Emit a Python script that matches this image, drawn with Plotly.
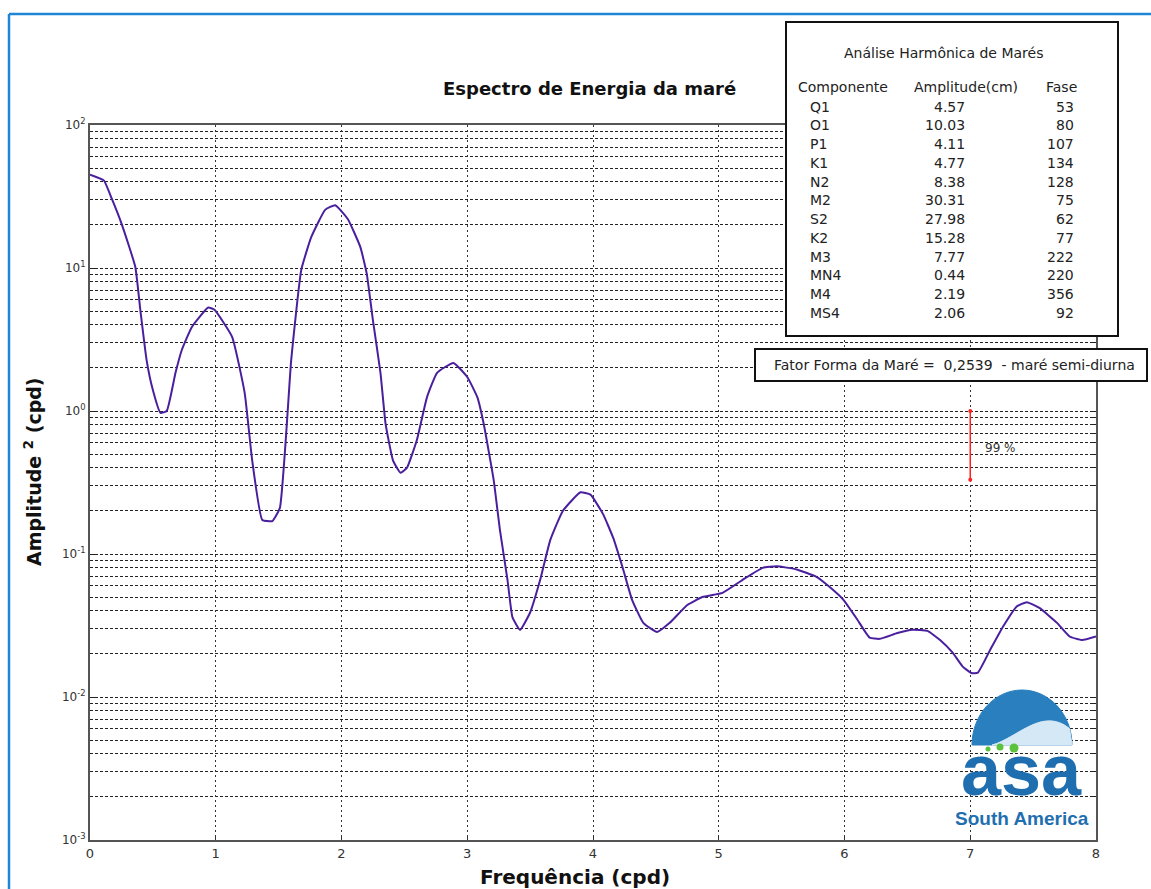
import plotly.graph_objects as go

# ---------------- data ----------------
freq = [0.00, 0.11, 0.17, 0.25, 0.36, 0.40, 0.45, 0.50, 0.56, 0.61,
        0.68, 0.73, 0.81, 0.94, 0.99, 1.13, 1.23, 1.29, 1.37, 1.45,
        1.51, 1.60, 1.68, 1.76, 1.87, 1.95, 2.05, 2.15, 2.20, 2.25,
        2.31, 2.35, 2.41, 2.47, 2.52, 2.60, 2.68, 2.76, 2.89, 3.00,
        3.08, 3.13, 3.21, 3.26, 3.32, 3.36, 3.42, 3.50, 3.58, 3.66,
        3.76, 3.90, 3.98, 4.08, 4.16, 4.24, 4.31, 4.40, 4.51, 4.61,
        4.75, 4.87, 5.03, 5.19, 5.35, 5.46, 5.62, 5.78, 5.88, 5.99,
        6.10, 6.20, 6.28, 6.42, 6.54, 6.66, 6.76, 6.86, 6.94, 7.01,
        7.06, 7.16, 7.26, 7.37, 7.45, 7.55, 7.69, 7.79, 7.89, 8.00]
energy = [45, 41, 31, 20.5, 10.2, 5.1, 2.27, 1.4, 0.97, 1.0,
          1.85, 2.67, 3.87, 5.3, 5.1, 3.3, 1.34, 0.45, 0.173, 0.17,
          0.21, 2.27, 9.7, 16.5, 25.5, 27.5, 22, 14, 9.2, 4.3,
          1.85, 0.82, 0.45, 0.37, 0.40, 0.63, 1.25, 1.85, 2.17, 1.73,
          1.25, 0.82, 0.33, 0.147, 0.066, 0.036, 0.0295, 0.039, 0.066, 0.125,
          0.20, 0.27, 0.26, 0.19, 0.13, 0.078, 0.048, 0.033, 0.0285, 0.033,
          0.044, 0.050, 0.0535, 0.066, 0.080, 0.082, 0.078, 0.069, 0.059, 0.048,
          0.035, 0.026, 0.0255, 0.028, 0.0295, 0.029, 0.025, 0.0204, 0.0163, 0.0147,
          0.0148, 0.0215, 0.031, 0.043, 0.046, 0.042, 0.033, 0.0265, 0.025, 0.0265]

# 99% confidence bar
ci_freq = [7.0, 7.0]
ci_energy = [1.0, 0.33]
ci_label = "99 %"

# harmonic table
components = ["Q1", "O1", "P1", "K1", "N2", "M2", "S2", "K2", "M3", "MN4", "M4", "MS4"]
amplitudes = ["4.57", "10.03", "4.11", "4.77", "8.38", "30.31", "27.98", "15.28", "7.77", "0.44", "2.19", "2.06"]
phases = ["53", "80", "107", "134", "128", "75", "62", "77", "222", "220", "356", "92"]
table_title = "Análise Harmônica de Marés"
table_headers = ["Componente", "Amplitude(cm)", "Fase"]
form_factor_text = "Fator Forma da Maré =  0,2539  - maré semi-diurna"

x_ticks = [0, 1, 2, 3, 4, 5, 6, 7, 8]
y_major = [1e-3, 1e-2, 1e-1, 1e0, 1e1, 1e2]
y_major_text = ["10<sup>-3</sup>", "10<sup>-2</sup>", "10<sup>-1</sup>",
                "10<sup>0</sup>", "10<sup>1</sup>", "10<sup>2</sup>"]
y_minor = [k * 10.0 ** e for e in range(-3, 2) for k in range(2, 10)]

# ---------------- layout geometry ----------------
W, H = 1151, 889
L, R, T, B = 90, 55, 125, 49
PW, PH = W - L - R, H - T - B


def px(xp):
    return (xp - L) / PW


def py(yp):
    return (H - B - yp) / PH


FONT = "DejaVu Sans"
TXT = "#222222"

fig = go.Figure()
fig.add_trace(go.Scatter(x=freq, y=energy, mode="lines",
                         line=dict(color="#4a1f9e", width=2, shape="spline", smoothing=0.4),
                         showlegend=False))
fig.add_trace(go.Scatter(x=ci_freq, y=ci_energy, mode="lines+markers",
                         line=dict(color="#ff2020", width=1.5),
                         marker=dict(color="#ff2020", size=4), showlegend=False))

shapes = []
annotations = []


def note(text, x, y, size=14, xanchor="center", family=FONT, color=TXT, **kw):
    annotations.append(dict(text=text, xref="paper", yref="paper", x=x, y=y,
                            xanchor=xanchor, yanchor="middle", showarrow=False,
                            font=dict(family=family, size=size, color=color), **kw))


# outer blue frame (left + top)
shapes.append(dict(type="line", xref="paper", yref="paper",
                   x0=px(9), x1=px(9), y0=py(14), y1=py(900),
                   line=dict(color="#1f86d6", width=2.5)))
shapes.append(dict(type="line", xref="paper", yref="paper",
                   x0=px(9), x1=px(1160), y0=py(14), y1=py(14),
                   line=dict(color="#1f86d6", width=2.5)))

# table box
shapes.append(dict(type="rect", xref="paper", yref="paper", layer="above",
                   x0=px(786), x1=px(1118), y0=py(336), y1=py(22),
                   fillcolor="white", line=dict(color="#111111", width=2)))
# form-factor box
shapes.append(dict(type="rect", xref="paper", yref="paper", layer="above",
                   x0=px(755), x1=px(1147), y0=py(381), y1=py(349),
                   fillcolor="white", line=dict(color="#111111", width=2)))

# logo dome
cx, cy, rx, ry = px(1022), py(745), 50 / PW, 55 / PH
k = 0.5523
dome = (f"M {cx-rx},{cy} C {cx-rx},{cy+k*ry} {cx-k*rx},{cy+ry} {cx},{cy+ry} "
        f"C {cx+k*rx},{cy+ry} {cx+rx},{cy+k*ry} {cx+rx},{cy} Z")
shapes.append(dict(type="path", xref="paper", yref="paper", layer="above",
                   path=dome, fillcolor="#2a7fbe", line=dict(color="#2a7fbe", width=1)))
wave = (f"M {cx-0.6*rx},{cy} C {cx-0.1*rx},{cy+0.12*ry} {cx+0.4*rx},{cy+0.7*ry} {cx+0.95*rx},{cy+0.3*ry} "
        f"L {cx+rx},{cy} Z")
shapes.append(dict(type="path", xref="paper", yref="paper", layer="above",
                   path=wave, fillcolor="#d4e8f5", line=dict(color="#d4e8f5", width=1)))
for (dx, dy, r) in [(988, 749, 2.5), (1000, 747, 3.5), (1014, 748, 4.5)]:
    shapes.append(dict(type="circle", xref="paper", yref="paper", layer="above",
                       x0=px(dx - r), x1=px(dx + r), y0=py(dy + r), y1=py(dy - r),
                       fillcolor="#5cc13c", line=dict(width=0)))

# titles
note("<b>Espectro de Energia da maré</b>", px(589), py(88), size=18, color="#111111")
note("<b>Frequência (cpd)</b>", px(575), py(877), size=20, color="#111111")
note("<b>Amplitude <sup>2</sup> (cpd)</b>", px(33), py(472), size=19, color="#111111", textangle=-90)

# table content
note(table_title, px(943), py(53))
hdr_x = [(796, "left"), (966, "center"), (1061, "center")]
for h, (hx, anc) in zip(table_headers, hdr_x):
    note(h, px(hx), py(87), xanchor=anc)
for i, (c, a, p) in enumerate(zip(components, amplitudes, phases)):
    yy = py(106.7 + i * 18.75)
    note(c, px(808), yy, xanchor="left")
    note(a, px(967), yy, xanchor="right")
    note(p, px(1076), yy, xanchor="right")
note(form_factor_text, px(954), py(365))

# 99% label
annotations.append(dict(text=ci_label, x=7.1, y=-0.26, xref="x", yref="y",
                        xanchor="left", yanchor="middle", showarrow=False,
                        font=dict(family=FONT, size=12, color="#333333")))

# logo text
note("<b>asa</b>", px(1021), py(770), size=72, family="Liberation Sans", color="#1f6fb0",
     height=52, borderpad=0)
note("<b>South America</b>", px(1022), py(818), size=19, family="Liberation Sans", color="#1f6fb0",
     borderpad=0)

fig.update_layout(
    width=W, height=H, template="none",
    margin=dict(l=L, r=R, t=T, b=B, autoexpand=False),
    paper_bgcolor="white", plot_bgcolor="white",
    shapes=shapes, annotations=annotations, showlegend=False,
    xaxis=dict(range=[0, 8], tickvals=x_ticks, ticktext=[str(v) for v in x_ticks],
               showgrid=True, gridcolor="#333333", griddash="2px,3px", gridwidth=1,
               showline=True, linecolor="#555555", linewidth=2, mirror=True,
               ticks="inside", ticklen=5, tickcolor="#333333", zeroline=False,
               automargin=False, tickfont=dict(family=FONT, size=13, color="#333333")),
    yaxis=dict(type="log", range=[-3, 2], tickvals=y_major, ticktext=y_major_text,
               showgrid=True, gridcolor="#222222", griddash="3px,2px", gridwidth=1,
               showline=True, linecolor="#555555", linewidth=2, mirror="allticks",
               ticks="inside", ticklen=6, tickcolor="#222222", zeroline=False,
               automargin=False, tickfont=dict(family=FONT, size=12, color="#333333"),
               minor=dict(tickvals=y_minor, showgrid=True, gridcolor="#222222",
                          griddash="3px,2px", gridwidth=1, ticks="inside", ticklen=3,
                          tickcolor="#222222")),
)

fig.write_html("out.html", config={"displayModeBar": False},
               post_script="document.body.style.margin='0px';")
